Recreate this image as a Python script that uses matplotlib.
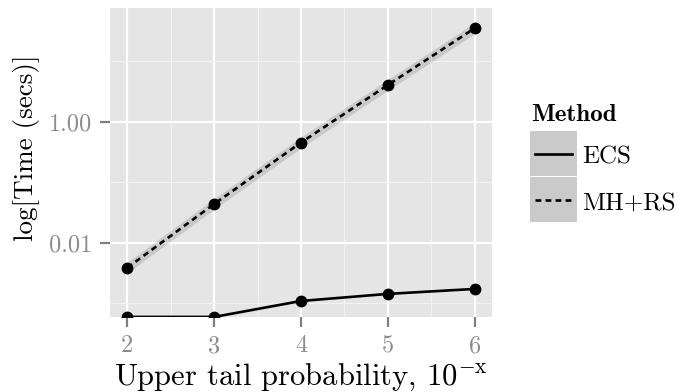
import matplotlib
matplotlib.use("Agg")
import matplotlib.pyplot as plt
from matplotlib.patches import Rectangle
from matplotlib.lines import Line2D

plt.rcParams['font.family'] = ['cmr10', 'DejaVu Serif']
plt.rcParams['mathtext.fontset'] = 'cm'
plt.rcParams['axes.unicode_minus'] = False

# ---- data ----
x_vals = [2, 3, 4, 5, 6]
ecs = [0.0006, 0.0006, 0.0011, 0.00144, 0.00174]
mhrs = [0.0039, 0.044, 0.455, 4.05, 35.0]
mhrs_lo = [0.0032, 0.036, 0.37, 3.3, 28.5]
mhrs_hi = [0.0048, 0.054, 0.56, 5.0, 43.0]
x_ticks = [2, 3, 4, 5, 6]
y_ticks = [0.01, 1.0]
y_tick_labels = ["0.01", "1.00"]
y_minor = [0.001, 0.1, 10.0]
methods = ["ECS", "MH+RS"]

W, H = 678, 392
fig = plt.figure(figsize=(W / 100, H / 100), dpi=100)
ax = fig.add_axes([110 / W, (H - 317) / H, 382 / W, 309 / H])
ax.set_facecolor('#E5E5E5')
for s in ax.spines.values():
    s.set_visible(False)

ax.set_yscale('log')
ax.set_xlim(1.8, 6.2)
ax.set_ylim(10 ** -3.223, 10 ** 1.879)

ax.set_xticks(x_ticks)
ax.set_xticks([2.5, 3.5, 4.5, 5.5], minor=True)
ax.set_yticks(y_ticks)
ax.set_yticklabels(y_tick_labels)
ax.set_yticks(y_minor, minor=True)
ax.yaxis.set_minor_formatter(matplotlib.ticker.NullFormatter())
ax.grid(which='major', color='white', linewidth=1.6)
ax.grid(which='minor', color='#F2F2F2', linewidth=0.8)
ax.set_axisbelow(True)
ax.tick_params(which='major', length=7.5, width=1.6, color='#7F7F7F',
               labelcolor='#8C8C8C', labelsize=17.5, pad=5.5)
ax.tick_params(which='minor', length=0)

# ECS
ax.plot(x_vals, ecs, color='black', linewidth=1.9, zorder=3)
ax.plot(x_vals, ecs, 'o', color='black', markersize=7.5, zorder=3)
# MH+RS
ax.plot(x_vals, mhrs, 'o', color='black', markersize=7.5, zorder=2)
ax.fill_between(x_vals, mhrs_lo, mhrs_hi, color='black', alpha=0.12,
                linewidth=0, zorder=2.5)
ax.plot(x_vals, mhrs, color='black', linewidth=1.9, linestyle=(0, (2.2, 1.6)),
        zorder=3)

ax.set_xlabel(r"Upper tail probability, $10^{-\mathrm{x}}$", fontsize=22,
              labelpad=3)
ax.set_ylabel("log[Time (secs)]", fontsize=19.5)
ax.yaxis.set_label_coords(-0.184, 0.547)


# ---- legend (manual, in pixel coords) ----
def px(xp, yp):
    return xp / W, 1 - yp / H


fig.text(*px(531, 121), "Method", family='cmb10', fontsize=18,
         va='baseline', ha='left')
styles = ['-', (0, (2.2, 1.6))]
baselines = [163, 210]
for i, (m, ls) in enumerate(zip(methods, styles)):
    top = 131 + i * 46
    x0, y0 = px(530, top + 45)
    fig.patches.append(Rectangle((x0, y0), 47 / W, 45 / H, transform=fig.transFigure,
                                 facecolor='#CACACA', edgecolor='none'))
    lx0, ly = px(535, top + 22.5)
    lx1, _ = px(572, top + 22.5)
    fig.lines.append(Line2D([lx0, lx1], [ly, ly], transform=fig.transFigure,
                            color='black', linewidth=1.9, linestyle=ls))
    fig.text(*px(582, baselines[i]), m, fontsize=18, va='baseline', ha='left')

fig.savefig("out.png", dpi=100)
